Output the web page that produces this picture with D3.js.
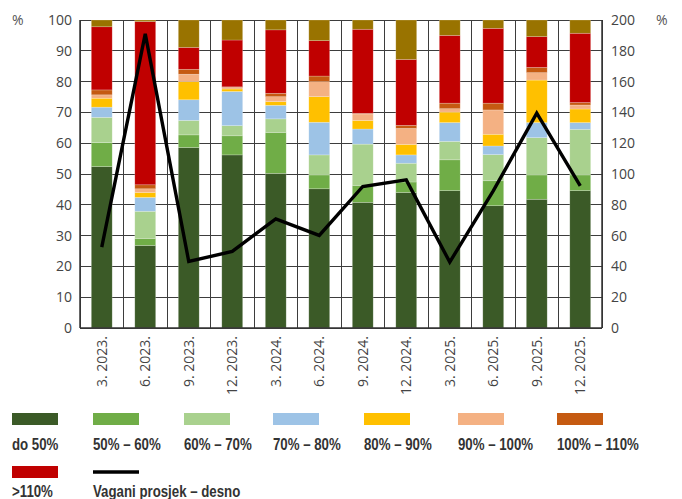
<!DOCTYPE html>
<html><head><meta charset="utf-8">
<script src="https://cdn.jsdelivr.net/npm/d3@7/dist/d3.min.js"></script>
<style>body{margin:0;background:#fff}svg{display:block}</style>
</head><body><svg id="c" width="682" height="499"></svg>
<script>
const categories = ["3. 2023.","6. 2023.","9. 2023.","12. 2023.","3. 2024.","6. 2024.","9. 2024.","12. 2024.","3. 2025.","6. 2025.","9. 2025.","12. 2025."];
const do50    = [52.4,26.8,58.6,56.2,50.2,45.2,40.8,44.0,44.6,39.7,41.8,44.6];
const p50_60  = [7.8,2.3,4.1,6.2,13.3,4.5,5.5,3.4,10.0,8.1,7.9,5.1];
const p60_70  = [8.2,8.8,4.7,3.3,4.4,6.5,13.4,6.1,6.0,8.5,12.1,14.8];
const p70_80  = [3.3,4.5,6.7,11.1,4.4,10.6,4.9,2.7,6.1,2.8,4.9,2.2];
const p80_90  = [2.9,1.6,5.9,0.8,1.2,8.3,2.8,3.4,3.4,3.8,13.8,4.4];
const p90_100 = [1.1,1.2,2.4,0.5,1.6,4.9,2.1,5.2,1.1,7.9,2.4,1.3];
const p100_110= [1.6,1.3,1.6,0.2,1.1,1.8,0.2,1.0,1.8,2.2,1.7,0.8];
const over110 = [20.5,53.0,7.1,15.2,20.6,11.5,27.3,21.4,22.0,24.3,10.0,22.5];
const other   = [2.2,0.5,8.9,6.5,3.2,6.7,3.0,12.8,5.0,2.7,5.4,4.3];
const weightedAvg = [52.5,191,43.2,49.7,70.9,60.1,91.9,96.2,42.8,89,139.5,92.3];
const leftTicks = [0,10,20,30,40,50,60,70,80,90,100];
const rightTicks = [0,20,40,60,80,100,120,140,160,180,200];

const seriesNames = ["do 50%","50% – 60%","60% – 70%","70% – 80%","80% – 90%","90% – 100%","100% – 110%",">110%","ostalo"];
const seriesData = [do50,p50_60,p60_70,p70_80,p80_90,p90_100,p100_110,over110,other];
const colors = ["#3B5A27","#70AD47","#A9D18E","#9DC3E6","#FFC000","#F4B183","#C55A11","#C00000","#997300"];

const rows = categories.map((c,i)=>{const o={cat:c};seriesNames.forEach((s,j)=>o[s]=seriesData[j][i]);return o;});

const svg = d3.select("#c");
const L=80,R=602,T=20,B=328;
const x = d3.scaleBand().domain(categories).range([L,R]).paddingInner(0.52).paddingOuter(0.26);
const yL = d3.scaleLinear().domain([0,100]).range([B,T]);
const yR = d3.scaleLinear().domain([0,200]).range([B,T]);
const grid="#3d3d3d";
const tickFont="'Open Sans', sans-serif";

// grid
svg.append("g").selectAll("line").data(leftTicks).join("line")
  .attr("x1",L).attr("x2",R).attr("y1",d=>yL(d)).attr("y2",d=>yL(d))
  .attr("stroke",grid).attr("stroke-width",1).attr("shape-rendering","crispEdges");
const bounds = d3.range(categories.length+1).map(i=>L+i*x.step());
svg.append("g").selectAll("line").data(bounds).join("line")
  .attr("x1",d=>d).attr("x2",d=>d).attr("y1",T).attr("y2",B)
  .attr("stroke",grid).attr("stroke-width",1).attr("shape-rendering","crispEdges");

// bars
const stack = d3.stack().keys(seriesNames)(rows);
svg.append("g").selectAll("g").data(stack).join("g").attr("fill",(d,i)=>colors[i])
  .selectAll("rect").data(d=>d).join("rect")
  .attr("x",d=>x(d.data.cat)).attr("width",x.bandwidth())
  .attr("y",d=>yL(d[1])).attr("height",d=>Math.max(0,yL(d[0])-yL(d[1])))
  .attr("stroke","#fff").attr("stroke-opacity",0.35).attr("stroke-width",0.6);

// axes lines
svg.append("line").attr("x1",L).attr("x2",L).attr("y1",T).attr("y2",B).attr("stroke","#333").attr("stroke-width",1.5);
svg.append("line").attr("x1",R).attr("x2",R).attr("y1",T).attr("y2",B).attr("stroke","#333").attr("stroke-width",1.5);
svg.append("line").attr("x1",L).attr("x2",R).attr("y1",B).attr("y2",B).attr("stroke","#333").attr("stroke-width",1.5);

// line
const line = d3.line().x((d,i)=>x(categories[i])+x.bandwidth()/2).y(d=>yR(d));
svg.append("path").datum(weightedAvg).attr("d",line).attr("fill","none").attr("stroke","#000").attr("stroke-width",3.4).attr("stroke-linejoin","miter");

// tick labels
svg.append("g").selectAll("text").data(leftTicks).join("text")
  .attr("x",72).attr("y",d=>yL(d)).attr("dy","0.35em").attr("text-anchor","end")
  .attr("font-family",tickFont).attr("font-size",14).attr("fill","#444").text(d=>d);
svg.append("g").selectAll("text").data(rightTicks).join("text")
  .attr("x",611).attr("y",d=>yR(d)).attr("dy","0.35em").attr("text-anchor","start")
  .attr("font-family",tickFont).attr("font-size",14).attr("fill","#444").text(d=>d);
svg.append("text").attr("x",12).attr("y",T).attr("dy","0.35em").attr("font-family",tickFont).attr("font-size",14).attr("fill","#555").text("%");
svg.append("text").attr("x",656).attr("y",T).attr("dy","0.35em").attr("font-family",tickFont).attr("font-size",14).attr("fill","#555").text("%");

// x labels
svg.append("g").selectAll("text").data(categories).join("text")
  .attr("transform",d=>`translate(${x(d)+x.bandwidth()/2},336) rotate(-90)`)
  .attr("dy","0.35em").attr("text-anchor","end")
  .attr("font-family",tickFont).attr("font-size",14).attr("fill","#444").text(d=>d);

// legend
const legFont="'Liberation Sans', Arial, sans-serif";
const legX=[12,93,184,273,364,458,557];
const leg = svg.append("g");
function legText(lx, ly, s){
  leg.append("text").attr("transform",`translate(${lx},${ly}) scale(0.78,1)`)
    .attr("font-family",legFont).attr("font-weight","bold").attr("font-size",17).attr("fill","#333").text(s);
}
seriesNames.slice(0,8).forEach((s,i)=>{
  const lx = i<7?legX[i]:12, ly = i<7?413:466;
  leg.append("rect").attr("x",lx).attr("y",ly).attr("width",46).attr("height",12).attr("fill",colors[i]);
  legText(lx, i<7?450:497, s);
});
leg.append("line").attr("x1",93).attr("x2",139).attr("y1",472).attr("y2",472).attr("stroke","#000").attr("stroke-width",3.4);
legText(93, 497, "Vagani prosjek – desno");
</script></body></html>
